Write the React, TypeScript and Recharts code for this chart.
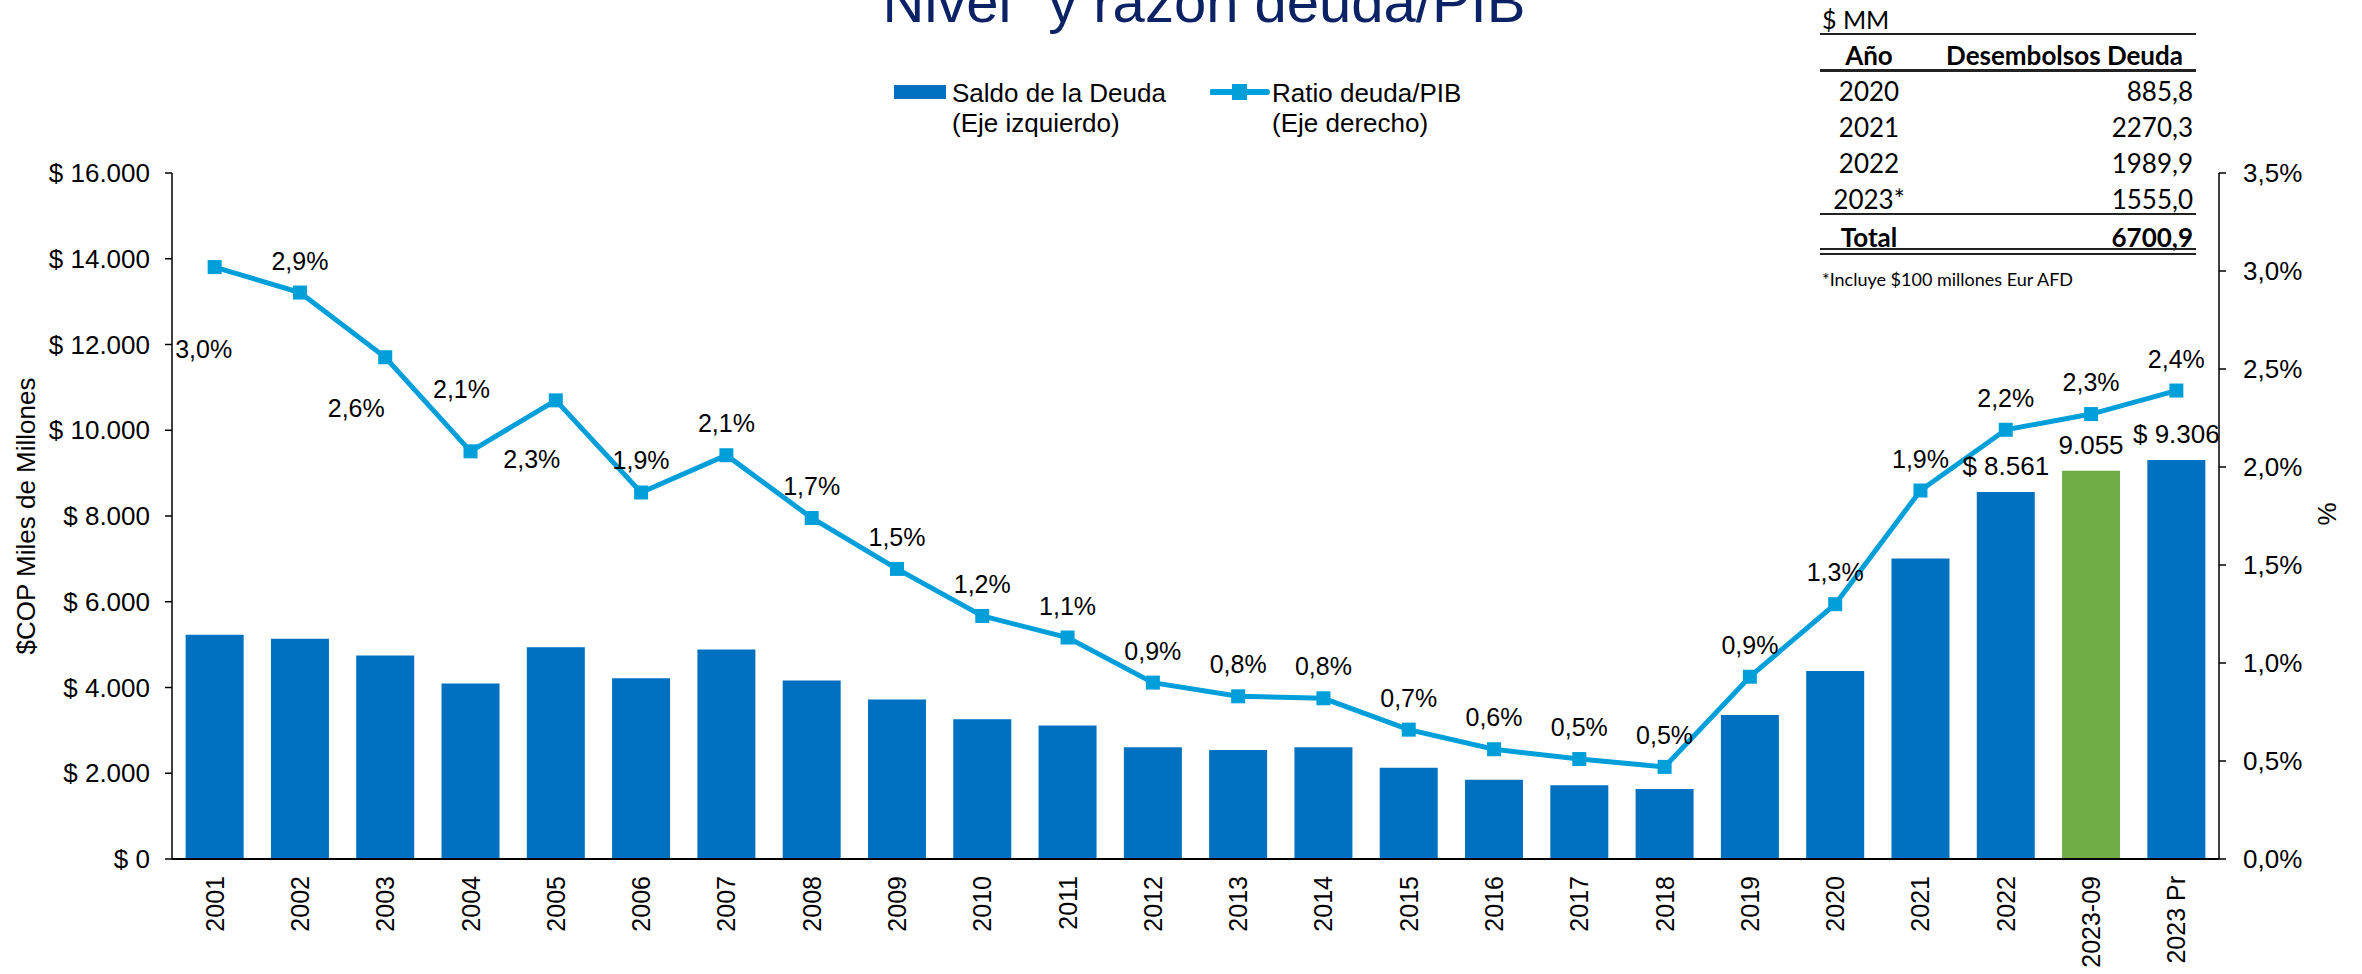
import React from 'react';
import { ComposedChart, Bar, Line, XAxis, YAxis, Cell, LabelList } from 'recharts';

// --- data ---
const years = [
  '2001', '2002', '2003', '2004', '2005', '2006', '2007', '2008', '2009', '2010', '2011', '2012',
  '2013', '2014', '2015', '2016', '2017', '2018', '2019', '2020', '2021', '2022', '2023-09', '2023 Pr',
];
// Saldo de la deuda, $COP miles de millones (eje izquierdo)
const saldoDeuda = [
  5232, 5138, 4748, 4094, 4936, 4218, 4889, 4164, 3719, 3259, 3111, 2604,
  2542, 2604, 2129, 1848, 1723, 1630, 3361, 4382, 7007, 8561, 9055, 9306,
];
// Ratio deuda/PIB, % (eje derecho)
const ratioDeudaPib = [
  3.02, 2.89, 2.56, 2.08, 2.34, 1.87, 2.06, 1.74, 1.48, 1.24, 1.13, 0.9,
  0.83, 0.82, 0.66, 0.56, 0.51, 0.47, 0.93, 1.3, 1.88, 2.19, 2.27, 2.39,
];
const barValueLabels: Record<string, string> = {
  '2022': '$ 8.561',
  '2023-09': '9.055',
  '2023 Pr': '$ 9.306',
};
const leftTicks = [0, 2000, 4000, 6000, 8000, 10000, 12000, 14000, 16000];
const rightTicks = [0, 0.5, 1, 1.5, 2, 2.5, 3, 3.5];

const tableYears = ['2020', '2021', '2022', '2023*'];
const tableDesembolsos = ['885,8', '2270,3', '1989,9', '1555,0'];
const tableTotal = '6700,9';

// --- styling ---
const FONT = "'Liberation Sans', Arial, sans-serif";
const TABLE_FONT = "Lato, 'Open Sans', sans-serif";
const BAR_BLUE = '#0070C0';
const BAR_GREEN = '#70AD47';
const LINE_BLUE = '#009FDA';
const HIGHLIGHT = '2023-09';

// where the % labels sit relative to their marker (default: just above)
const ratioLabelOffset: Record<string, [number, number]> = {
  '2001': [-11, 82],
  '2003': [-29, 51],
  '2004': [-9, -62],
  '2005': [-24, 59],
};

const chartData = years.map((year, i) => ({
  year,
  saldo: saldoDeuda[i],
  ratio: ratioDeudaPib[i],
  barLabel: barValueLabels[year],
}));

const fmtMiles = (v: number) => '$ ' + v.toLocaleString('de-DE');
const fmtPct = (v: number) => v.toFixed(1).replace('.', ',') + '%';

const YearTick = ({ x, y, payload }: any) => (
  <text
    x={x}
    y={y}
    transform={`rotate(-90, ${x}, ${y})`}
    textAnchor="end"
    dominantBaseline="central"
    fontSize={25}
    fontFamily={FONT}
    fill="#000"
  >
    {payload.value}
  </text>
);

const RatioDot = (props: any) => {
  const { cx, cy, index, payload } = props;
  const [dx, dy] = ratioLabelOffset[payload.year] ?? [0, -32];
  return (
    <g key={`dot-${index}`}>
      <rect x={cx - 7} y={cy - 7} width={14} height={14} fill={LINE_BLUE} />
      <text
        x={cx + dx}
        y={cy + dy}
        textAnchor="middle"
        dominantBaseline="central"
        fontSize={25}
        fontFamily={FONT}
        fill="#000"
      >
        {fmtPct(payload.ratio)}
      </text>
    </g>
  );
};

const abs = (left: number, top: number, extra: React.CSSProperties = {}): React.CSSProperties => ({
  position: 'absolute',
  left,
  top,
  ...extra,
});

function DisbursementTable() {
  const rowTops = [73, 109, 145, 181];
  const cell: React.CSSProperties = { fontFamily: TABLE_FONT, fontSize: 26, lineHeight: '36px', color: '#000' };
  const rule = (top: number, h: number) => (
    <div style={abs(1820, top, { width: 376, height: h, background: '#222' })} />
  );
  return (
    <>
      <div style={abs(1822, 1, { ...cell, fontSize: 25 })}>$ MM</div>
      {rule(33, 2)}
      <div style={abs(1819, 37, { ...cell, width: 100, textAlign: 'center', fontWeight: 700 })}>Año</div>
      <div style={abs(1900, 37, { ...cell, width: 283, textAlign: 'right', fontWeight: 700 })}>
        Desembolsos Deuda
      </div>
      {rule(69, 3)}
      {tableYears.map((y, i) => (
        <React.Fragment key={y}>
          <div style={abs(1819, rowTops[i], { ...cell, width: 100, textAlign: 'center' })}>{y}</div>
          <div style={abs(1980, rowTops[i], { ...cell, width: 213, textAlign: 'right' })}>
            {tableDesembolsos[i]}
          </div>
        </React.Fragment>
      ))}
      {rule(213, 2)}
      <div style={abs(1819, 219, { ...cell, width: 100, textAlign: 'center', fontWeight: 700 })}>Total</div>
      <div style={abs(1980, 219, { ...cell, width: 213, textAlign: 'right', fontWeight: 700 })}>
        {tableTotal}
      </div>
      {rule(248, 2)}
      {rule(253, 2)}
      <div style={abs(1822, 268, { ...cell, fontSize: 18, lineHeight: '22px' })}>
        *Incluye $100 millones Eur AFD
      </div>
    </>
  );
}

function ChartLegend() {
  const txt: React.CSSProperties = { fontFamily: FONT, fontSize: 26, lineHeight: '30px', color: '#000' };
  return (
    <>
      <div style={abs(894, 85, { width: 52, height: 14, background: BAR_BLUE })} />
      <div style={abs(952, 78, txt)}>
        Saldo de la Deuda
        <br />
        (Eje izquierdo)
      </div>
      <svg style={abs(1210, 82)} width={60} height={20}>
        <line x1={2} y1={10} x2={57} y2={10} stroke={LINE_BLUE} strokeWidth={6} strokeLinecap="round" />
        <rect x={22} y={2} width={15} height={16} fill={LINE_BLUE} />
      </svg>
      <div style={abs(1272, 78, txt)}>
        Ratio deuda/PIB
        <br />
        (Eje derecho)
      </div>
    </>
  );
}

export default function App() {
  return (
    <div style={{ position: 'absolute', left: 0, top: 0, width: 2362, height: 974, background: '#fff', overflow: 'hidden' }}>
      <ComposedChart
        width={2362}
        height={974}
        data={chartData}
        margin={{ top: 173, right: 33, bottom: 5, left: 62 }}
        barCategoryGap="16%"
      >
        <XAxis
          dataKey="year"
          interval={0}
          tick={<YearTick />}
          tickLine={false}
          tickSize={6}
          tickMargin={11}
          height={110}
          axisLine={{ stroke: '#000', strokeWidth: 2 }}
        />
        <YAxis
          yAxisId="left"
          domain={[0, 16000]}
          ticks={leftTicks}
          interval={0}
          tickFormatter={fmtMiles}
          width={110}
          tickSize={7}
          tickMargin={15}
          tick={{ fill: '#000', fontSize: 26, fontFamily: FONT }}
          tickLine={{ stroke: '#000', strokeWidth: 1.5 }}
          axisLine={{ stroke: '#000', strokeWidth: 1.5 }}
        />
        <YAxis
          yAxisId="right"
          orientation="right"
          domain={[0, 3.5]}
          ticks={rightTicks}
          interval={0}
          tickFormatter={(v: number) => v.toFixed(1).replace('.', ',') + '%'}
          width={110}
          tickSize={7}
          tickMargin={17}
          tick={{ fill: '#000', fontSize: 26, fontFamily: FONT }}
          tickLine={{ stroke: '#000', strokeWidth: 1.5 }}
          axisLine={{ stroke: '#000', strokeWidth: 1.5 }}
        />
        <Bar yAxisId="left" dataKey="saldo" fill={BAR_BLUE} isAnimationActive={false}>
          {chartData.map((d) => (
            <Cell key={d.year} fill={d.year === HIGHLIGHT ? BAR_GREEN : BAR_BLUE} />
          ))}
          <LabelList
            dataKey="barLabel"
            position="top"
            offset={17}
            fill="#000"
            fontSize={26}
            fontFamily={FONT}
          />
        </Bar>
        <Line
          yAxisId="right"
          dataKey="ratio"
          stroke={LINE_BLUE}
          strokeWidth={5}
          dot={<RatioDot />}
          activeDot={false}
          isAnimationActive={false}
        />
      </ComposedChart>

      <svg style={abs(0, 0, { pointerEvents: 'none' })} width={2362} height={974}>
        <text x={1204} y={22} textAnchor="middle" fontSize={58} fontFamily={FONT} fill="#0B2265">
          Nivel" y razón deuda/PIB
        </text>
        <text
          x={26}
          y={516}
          transform="rotate(-90, 26, 516)"
          textAnchor="middle"
          dominantBaseline="central"
          fontSize={26}
          fontFamily={FONT}
          fill="#000"
        >
          $COP Miles de Millones
        </text>
        <text
          x={2327}
          y={514}
          transform="rotate(-90, 2327, 514)"
          textAnchor="middle"
          dominantBaseline="central"
          fontSize={26}
          fontFamily={FONT}
          fill="#000"
        >
          %
        </text>
      </svg>

      <ChartLegend />
      <DisbursementTable />
    </div>
  );
}
